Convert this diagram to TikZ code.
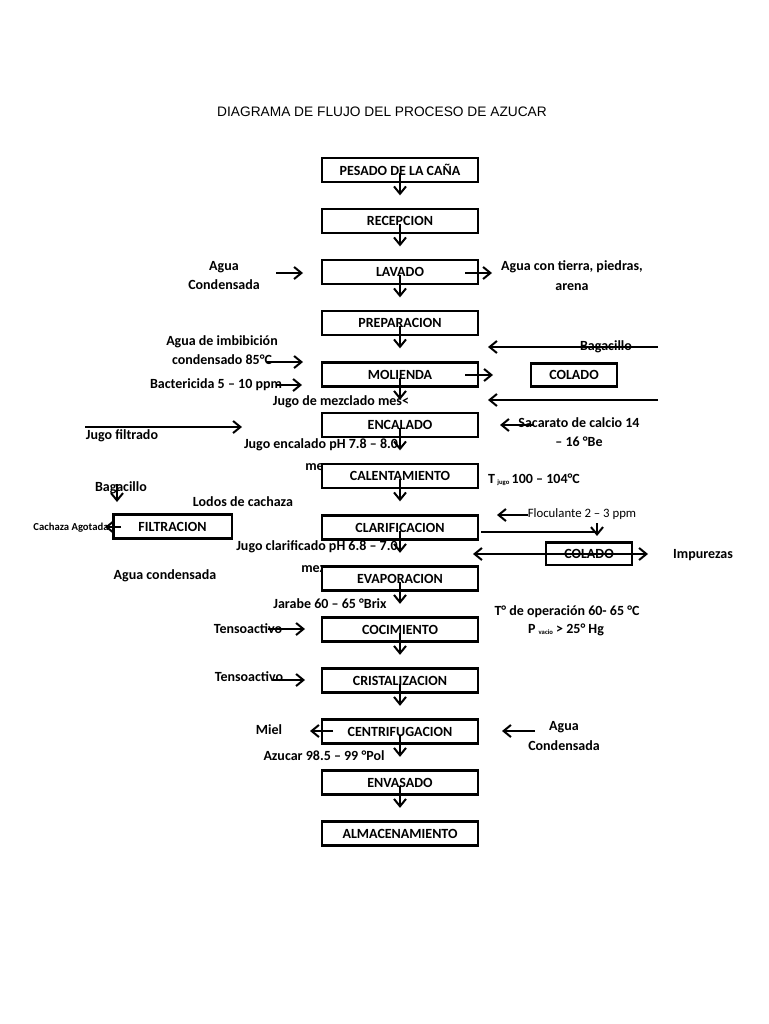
\documentclass[tikz,border=0pt]{standalone}
\usepackage{fontspec}
\setmainfont{Carlito}
\newfontfamily\titlefont{Liberation Sans}
\usetikzlibrary{arrows.meta,calc}
\begin{document}
\begin{tikzpicture}[x=0.75pt,y=-0.75pt,
  box/.style={draw, line width=2pt, fill=white, minimum width=117pt, minimum height=18pt, inner sep=0pt, font=\bfseries\fontsize{10.5}{12}\selectfont},
  sbox/.style={box, minimum width=64.5pt, minimum height=17pt},
  lbl/.style={inner sep=0pt, font=\bfseries\fontsize{10.5}{14.5}\selectfont, align=center},
  small/.style={inner sep=0pt, font=\bfseries\fontsize{8}{9}\selectfont},
  thin/.style={inner sep=0pt, font=\fontsize{9.6}{11}\selectfont},
  arr/.style={line width=1pt, -{Straight Barb[length=5.5pt,width=9pt,line width=1.5pt]}},
  darr/.style={line width=1pt, {Straight Barb[length=5.5pt,width=9pt,line width=1.5pt]}-{Straight Barb[length=5.5pt,width=9pt,line width=1.5pt]}},
  ln/.style={line width=1pt}]
\fill[white] (0,0) rectangle (768,1024);
\useasboundingbox (0,0) rectangle (768,1024);

% title
\node[inner sep=0pt, font=\titlefont\fontsize{10.3}{12}\selectfont] (title) at (382,112) {DIAGRAMA DE FLUJO DEL PROCESO DE AZUCAR};

% side labels (drawn first so boxes can clip them)
\node[lbl] (aguac1) at (224,275.5) {Agua\\Condensada};
\node[lbl] (tierra) at (572,275.5) {Agua con tierra, piedras,\\arena};
\node[lbl] (imb) at (222,350) {Agua de imbibición\\condensado 85°C};
\node[lbl] (bact) at (216,385) {Bactericida 5 – 10 ppm};
\node[lbl] (bag1) at (606,347) {Bagacillo};
\node[lbl] (jmez) at (341,402) {Jugo de mezclado mes\textless};
\node[lbl] (jfil) at (122,436) {Jugo filtrado};
\node[lbl] (sac) at (579,432) {Sacarato de calcio 14\\– 16 °Be};
\node[lbl] (jenc) at (321,445) {Jugo encalado pH  7.8 – 8.0};
\node[lbl, anchor=base] (mez1) at (320,470.5) {mezc};
\node[lbl] (tjugo) at (534,480) {T\,\raisebox{-1pt}{\fontsize{5}{5}\selectfont jugo}\,100 – 104°C};
\node[lbl] (bag2) at (121,488) {Bagacillo};
\node[lbl] (lodos) at (243,502) {Lodos de cachaza};
\node[small] (cach) at (71,528) {Cachaza Agotada};
\node[thin] (floc) at (582,514) {Floculante 2 – 3 ppm};
\node[lbl] (imp) at (703,555) {Impurezas};
\node[lbl] (jcla) at (317,547) {Jugo clarificado pH  6.8 – 7.0};
\node[lbl, anchor=base] (mez2) at (316,572.5) {mezc};
\node[lbl] (aguac2) at (165,576) {Agua condensada};
\node[lbl] (jar) at (330,604) {Jarabe 60 – 65 °Brix};
\node[lbl] (top) at (567,612) {T° de operación 60- 65 °C};
\node[lbl] (pvac) at (566,630) {P \raisebox{-0.5pt}{\fontsize{5}{5}\selectfont vacio} > 25° Hg};
\node[lbl] (tens1) at (248,629) {Tensoactivo};
\node[lbl] (tens2) at (249,677) {Tensoactivo};
\node[lbl] (miel) at (269,730) {Miel};
\node[lbl] (aguac3) at (564,736) {Agua\\Condensada};
\node[lbl] (azu) at (324,756) {Azucar 98.5 – 99 °Pol};

% main boxes
\node[box] (b1) at (400,170) {PESADO DE LA CAÑA};
\node[box] (b2) at (400,221) {RECEPCION};
\node[box] (b3) at (400,272) {LAVADO};
\node[box] (b4) at (400,323) {PREPARACION};
\node[box] (b5) at (400,374.5) {MOLIENDA};
\node[box] (b6) at (400,425) {ENCALADO};
\node[box] (b7) at (400,476) {CALENTAMIENTO};
\node[box] (b8) at (400,527.5) {CLARIFICACION};
\node[box] (b9) at (400,578.5) {EVAPORACION};
\node[box] (b10) at (400,629.5) {COCIMIENTO};
\node[box] (b11) at (400,680.5) {CRISTALIZACION};
\node[box] (b12) at (400,731.5) {CENTRIFUGACION};
\node[box] (b13) at (400,782.5) {ENVASADO};
\node[box] (b14) at (400,833.5) {ALMACENAMIENTO};

% side boxes
\node[sbox] (col1) at (574,375) {COLADO};
\node[sbox] (col2) at (589,553.5) {COLADO};
\node[box, minimum width=89pt] (filt) at (172.5,526.5) {FILTRACION};

% vertical arrows
\foreach \i in {1,...,13}
  \draw[arr] ($(b\i.center)+(0,3)$) -- ($(b\i.south)+(0,12)$);

% free end coordinates
\coordinate (p1s) at (276,273);  \coordinate (p1e) at (303,273);
\coordinate (p2s) at (465,273);  \coordinate (p2e) at (492,273);
\coordinate (p3s) at (267,362);  \coordinate (p3e) at (303,362);
\coordinate (p4s) at (277,385);  \coordinate (p4e) at (302,385);
\coordinate (p5s) at (658,347);  \coordinate (p5e) at (488,347);
\coordinate (p6s) at (465,375);  \coordinate (p6e) at (493,375);
\coordinate (p7s) at (658,400);  \coordinate (p7e) at (488,400);
\coordinate (p8s) at (85,427);   \coordinate (p8e) at (242,427);
\coordinate (p9s) at (533,425);  \coordinate (p9e) at (500,425);
\coordinate (p10s) at (117,484); \coordinate (p10e) at (117,502);
\coordinate (p11s) at (121,527); \coordinate (p11e) at (105,527);
\coordinate (p12s) at (528,515); \coordinate (p12e) at (497,515);
\coordinate (p13s) at (481,532); \coordinate (p13e) at (597,532);
\coordinate (p14s) at (597,523); \coordinate (p14e) at (597,536);
\coordinate (p15s) at (473,554); \coordinate (p15e) at (648,554);
\coordinate (p16s) at (268,629); \coordinate (p16e) at (305,629);
\coordinate (p17s) at (272,680); \coordinate (p17e) at (305,680);
\coordinate (p18s) at (333,731); \coordinate (p18e) at (310,731);
\coordinate (p19s) at (535,731); \coordinate (p19e) at (502,731);

\draw[arr] (p1s) -- (p1e);
\draw[arr] (p2s) -- (p2e);
\draw[arr] (p3s) -- (p3e);
\draw[arr] (p4s) -- (p4e);
\draw[arr] (p5s) -- (p5e);
\draw[arr] (p6s) -- (p6e);
\draw[arr] (p7s) -- (p7e);
\draw[arr] (p8s) -- (p8e);
\draw[arr] (p9s) -- (p9e);
\draw[arr] (p10s) -- (p10e);
\draw[arr] (p11s) -- (p11e);
\draw[arr] (p12s) -- (p12e);
\draw[ln] (p13s) -- (p13e);
\draw[arr] (p14s) -- (p14e);
\draw[darr] (p15s) -- (p15e);
\draw[arr] (p16s) -- (p16e);
\draw[arr] (p17s) -- (p17e);
\draw[arr] (p18s) -- (p18e);
\draw[arr] (p19s) -- (p19e);
\end{tikzpicture}
\end{document}
